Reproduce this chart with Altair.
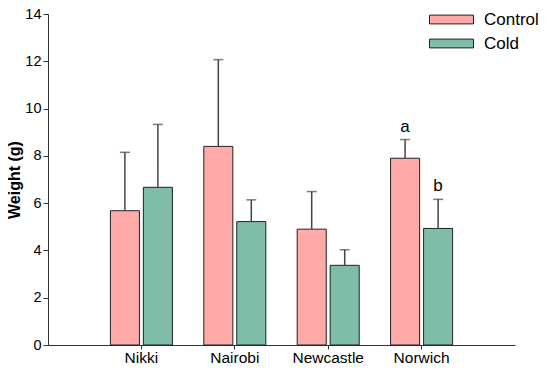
import altair as alt
import pandas as pd

cities = ["Nikki", "Nairobi", "Newcastle", "Norwich"]
groups = ["Control", "Cold"]
control = [5.68, 8.40, 4.90, 7.90]
control_err = [2.47, 3.67, 1.59, 0.79]
cold = [6.67, 5.22, 3.37, 4.93]
cold_err = [2.66, 0.92, 0.66, 1.23]
control_letters = ["", "", "", "a"]
cold_letters = ["", "", "", "b"]
colors = ["#FFA9A9", "#80BDA9"]

rows = []
for i, c in enumerate(cities):
    rows.append({"city": c, "group": "Control", "value": control[i],
                 "top": control[i] + control_err[i], "letter": control_letters[i]})
    rows.append({"city": c, "group": "Cold", "value": cold[i],
                 "top": cold[i] + cold_err[i], "letter": cold_letters[i]})
df = pd.DataFrame(rows)

FONT = "Liberation Sans"

x = alt.X("city:N", sort=cities, title=None,
          scale=alt.Scale(paddingInner=0, paddingOuter=0.5),
          axis=alt.Axis(labelAngle=0, labelFontSize=15.5, labelColor="black",
                        labelFont=FONT, domainColor="#333333", tickColor="#333333",
                        tickSize=4, labelPadding=1))
xo = alt.XOffset("group:N", sort=groups,
                 scale=alt.Scale(paddingInner=0.12, paddingOuter=0.475))
y = alt.Y("value:Q", title="Weight (g)",
          scale=alt.Scale(domain=[0, 14], nice=False),
          axis=alt.Axis(values=list(range(0, 15, 2)), grid=False, labelFontSize=14.5,
                        labelColor="black", labelFont=FONT, titleFont=FONT,
                        titleFontSize=16, titleFontWeight="bold", titleColor="black",
                        domainColor="#333333", tickColor="#333333", tickSize=5,
                        labelPadding=2, titlePadding=2))

base = alt.Chart(df)

bars = base.mark_bar(stroke="#222222", strokeWidth=1).encode(
    x=x, xOffset=xo, y=y,
    color=alt.Color("group:N", sort=groups,
                    scale=alt.Scale(domain=groups, range=colors),
                    legend=alt.Legend(title=None, orient="none", legendX=394, legendY=-4,
                                      symbolType="M-2.5,-0.5L2.5,-0.5L2.5,0.5L-2.5,0.5Z",
                                      symbolSize=310, symbolStrokeColor="#222222",
                                      symbolStrokeWidth=1, symbolOpacity=1,
                                      labelFontSize=17, labelFont=FONT, labelColor="black",
                                      rowPadding=6, labelOffset=23)),
)

rules = base.mark_rule(color="#444444", strokeWidth=1.5).encode(
    x=x, xOffset=xo, y="value:Q", y2="top:Q")

caps = base.mark_tick(color="#444444", size=10, thickness=1.5).encode(
    x=x, xOffset=xo, y="top:Q")

letters = base.mark_text(fontSize=17, font=FONT, color="black", baseline="bottom", dy=-4).encode(
    x=x, xOffset=xo, y="top:Q", text="letter:N")

chart = alt.layer(bars, rules, caps, letters).properties(
    width=467, height=331,
    padding={"left": 40, "top": 6, "right": 27, "bottom": 20},
    autosize="none",
).configure_view(stroke=None)

chart.save("out.html", embed_options={"renderer": "svg", "actions": False})
